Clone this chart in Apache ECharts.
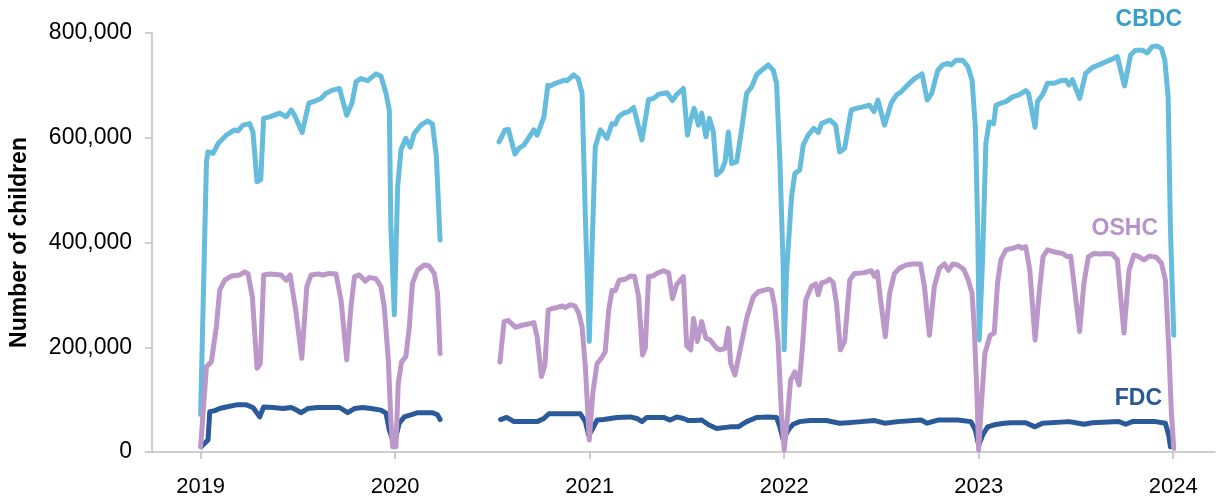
<!DOCTYPE html>
<html>
<head>
<meta charset="utf-8">
<script src="https://cdn.jsdelivr.net/npm/echarts@6/dist/echarts.min.js"></script>
<style>
html,body{margin:0;padding:0;background:#fff;}
#chart{width:1219px;height:499px;}
</style>
</head>
<body>
<div id="chart"></div>
<script>
// ---- Data (x = decimal year, y = number of children) ----
const yearTicks = [2019, 2020, 2021, 2022, 2023, 2024];
const yTicks = [0, 200000, 400000, 600000, 800000];
const seriesNames = ['CBDC', 'OSHC', 'FDC'];

const cbdc = [
[2019.000,72000],[2019.030,555000],[2019.038,573000],[2019.064,570000],[2019.090,589000],[2019.132,605000],[2019.175,615000],[2019.192,613000],[2019.218,624000],[2019.252,627000],[2019.269,611000],[2019.290,516000],[2019.309,520000],[2019.324,637000],[2019.355,640000],[2019.406,647000],[2019.440,640000],[2019.466,653000],[2019.483,643000],[2019.522,610000],[2019.556,666000],[2019.594,671000],[2019.619,675000],[2019.645,685000],[2019.679,691000],[2019.714,694000],[2019.751,643000],[2019.778,666000],[2019.799,707000],[2019.824,713000],[2019.842,711000],[2019.859,709000],[2019.901,722000],[2019.927,718000],[2019.953,685000],[2019.970,653000],[2019.978,430000],[2019.996,262000],[2020.004,265000],[2020.013,506000],[2020.030,577000],[2020.055,599000],[2020.078,582000],[2020.098,608000],[2020.132,624000],[2020.166,632000],[2020.192,626000],[2020.212,564000],[2020.231,405000],
[2020.400,null],
[2020.534,592000],[2020.565,615000],[2020.582,616000],[2020.616,569000],[2020.637,580000],[2020.662,586000],[2020.713,615000],[2020.730,605000],[2020.765,640000],[2020.785,700000],[2020.799,699000],[2020.824,704000],[2020.850,707000],[2020.867,710000],[2020.884,709000],[2020.918,720000],[2020.941,713000],[2020.961,685000],[2020.978,449000],[2020.998,211000],[2021.012,386000],[2021.029,583000],[2021.055,615000],[2021.089,599000],[2021.115,627000],[2021.132,626000],[2021.149,640000],[2021.175,647000],[2021.200,650000],[2021.226,658000],[2021.269,596000],[2021.303,673000],[2021.329,675000],[2021.354,683000],[2021.397,686000],[2021.426,671000],[2021.448,683000],[2021.482,694000],[2021.503,605000],[2021.516,630000],[2021.537,656000],[2021.559,624000],[2021.576,647000],[2021.598,602000],[2021.616,637000],[2021.636,611000],[2021.653,529000],[2021.679,538000],[2021.696,554000],[2021.713,611000],[2021.730,551000],[2021.756,554000],[2021.781,615000],[2021.807,685000],[2021.833,697000],[2021.858,720000],[2021.884,729000],[2021.918,739000],[2021.944,729000],[2021.961,704000],[2021.978,557000],[2021.995,354000],[2022.000,195000],[2022.012,341000],[2022.038,487000],[2022.055,532000],[2022.080,538000],[2022.098,586000],[2022.123,605000],[2022.152,618000],[2022.175,610000],[2022.192,627000],[2022.234,634000],[2022.265,624000],[2022.285,573000],[2022.311,580000],[2022.345,653000],[2022.371,656000],[2022.405,659000],[2022.439,662000],[2022.462,650000],[2022.482,672000],[2022.516,624000],[2022.550,666000],[2022.576,681000],[2022.602,688000],[2022.636,701000],[2022.670,713000],[2022.709,722000],[2022.735,672000],[2022.759,685000],[2022.790,729000],[2022.815,739000],[2022.841,742000],[2022.858,739000],[2022.884,748000],[2022.918,748000],[2022.944,736000],[2022.966,710000],[2022.983,621000],[2022.995,430000],[2023.003,214000],[2023.020,367000],[2023.037,589000],[2023.054,630000],[2023.077,627000],[2023.089,662000],[2023.114,666000],[2023.140,669000],[2023.174,678000],[2023.208,682000],[2023.242,690000],[2023.256,685000],[2023.290,620000],[2023.302,669000],[2023.328,682000],[2023.354,704000],[2023.388,704000],[2023.422,709000],[2023.448,710000],[2023.464,701000],[2023.482,711000],[2023.519,675000],[2023.550,723000],[2023.584,734000],[2023.618,739000],[2023.653,745000],[2023.687,750000],[2023.713,755000],[2023.750,699000],[2023.781,758000],[2023.806,767000],[2023.841,767000],[2023.866,762000],[2023.892,774000],[2023.918,775000],[2023.940,770000],[2023.957,748000],[2023.974,678000],[2023.986,424000],[2024.003,223000]
];

const oshc = [
[2019.000,10000],[2019.030,163000],[2019.055,172000],[2019.081,239000],[2019.098,309000],[2019.124,328000],[2019.158,336000],[2019.201,338000],[2019.227,344000],[2019.244,340000],[2019.266,296000],[2019.290,160000],[2019.307,169000],[2019.324,338000],[2019.355,340000],[2019.414,338000],[2019.440,328000],[2019.460,338000],[2019.491,265000],[2019.520,179000],[2019.546,316000],[2019.568,338000],[2019.602,340000],[2019.628,338000],[2019.662,341000],[2019.696,340000],[2019.722,290000],[2019.751,176000],[2019.773,277000],[2019.791,335000],[2019.816,338000],[2019.847,326000],[2019.867,333000],[2019.901,331000],[2019.927,316000],[2019.944,277000],[2019.965,176000],[2019.978,61000],[2019.987,10000],[2020.004,10000],[2020.016,131000],[2020.033,172000],[2020.055,182000],[2020.073,239000],[2020.089,322000],[2020.115,347000],[2020.149,357000],[2020.175,355000],[2020.201,341000],[2020.218,303000],[2020.231,188000],
[2020.400,null],
[2020.539,172000],[2020.560,249000],[2020.582,251000],[2020.619,238000],[2020.653,242000],[2020.679,244000],[2020.713,247000],[2020.730,220000],[2020.752,144000],[2020.770,166000],[2020.787,271000],[2020.807,274000],[2020.833,276000],[2020.859,279000],[2020.875,276000],[2020.901,281000],[2020.924,279000],[2020.944,265000],[2020.961,239000],[2020.978,163000],[2020.998,23000],[2021.016,112000],[2021.038,169000],[2021.060,179000],[2021.080,191000],[2021.098,271000],[2021.115,309000],[2021.132,308000],[2021.152,328000],[2021.183,330000],[2021.209,336000],[2021.231,335000],[2021.252,296000],[2021.272,185000],[2021.286,198000],[2021.303,335000],[2021.324,336000],[2021.346,341000],[2021.380,346000],[2021.406,342000],[2021.426,293000],[2021.448,320000],[2021.482,335000],[2021.499,203000],[2021.520,195000],[2021.534,255000],[2021.554,211000],[2021.576,249000],[2021.598,217000],[2021.619,214000],[2021.653,198000],[2021.670,195000],[2021.696,198000],[2021.713,236000],[2021.725,169000],[2021.747,147000],[2021.781,208000],[2021.807,255000],[2021.841,296000],[2021.867,306000],[2021.918,311000],[2021.935,309000],[2021.952,277000],[2021.969,208000],[2021.986,74000],[2022.000,4000],[2022.016,61000],[2022.033,137000],[2022.055,153000],[2022.077,128000],[2022.094,201000],[2022.111,290000],[2022.140,316000],[2022.162,321000],[2022.175,300000],[2022.192,323000],[2022.214,325000],[2022.234,330000],[2022.252,323000],[2022.269,284000],[2022.289,195000],[2022.311,211000],[2022.337,328000],[2022.362,341000],[2022.405,342000],[2022.448,346000],[2022.465,335000],[2022.479,344000],[2022.496,290000],[2022.520,220000],[2022.542,303000],[2022.567,341000],[2022.593,351000],[2022.627,357000],[2022.662,359000],[2022.701,359000],[2022.721,316000],[2022.747,223000],[2022.772,316000],[2022.798,351000],[2022.824,359000],[2022.844,347000],[2022.867,359000],[2022.892,357000],[2022.923,349000],[2022.944,331000],[2022.966,303000],[2022.977,239000],[2022.991,112000],[2023.000,4000],[2023.012,80000],[2023.032,188000],[2023.059,223000],[2023.080,227000],[2023.097,322000],[2023.114,367000],[2023.140,386000],[2023.174,389000],[2023.208,393000],[2023.222,389000],[2023.242,392000],[2023.263,347000],[2023.290,214000],[2023.311,303000],[2023.331,373000],[2023.354,386000],[2023.388,382000],[2023.431,379000],[2023.456,373000],[2023.473,374000],[2023.490,322000],[2023.519,230000],[2023.541,322000],[2023.564,373000],[2023.593,379000],[2023.627,378000],[2023.653,379000],[2023.687,378000],[2023.713,367000],[2023.747,227000],[2023.773,347000],[2023.798,376000],[2023.823,373000],[2023.849,367000],[2023.878,374000],[2023.913,372000],[2023.940,360000],[2023.960,328000],[2023.977,201000],[2023.991,74000],[2024.003,7000]
];

const fdc = [
[2019.003,10000],[2019.038,23000],[2019.047,77000],[2019.073,79000],[2019.098,83000],[2019.132,86000],[2019.184,90000],[2019.235,90000],[2019.269,85000],[2019.304,67000],[2019.324,86000],[2019.372,85000],[2019.423,83000],[2019.466,85000],[2019.483,82000],[2019.517,75000],[2019.551,83000],[2019.602,85000],[2019.662,85000],[2019.714,85000],[2019.756,75000],[2019.791,83000],[2019.833,85000],[2019.876,83000],[2019.927,80000],[2019.953,74000],[2019.970,42000],[2019.987,23000],[2020.004,29000],[2020.021,55000],[2020.047,67000],[2020.081,71000],[2020.115,75000],[2020.149,75000],[2020.192,75000],[2020.218,71000],[2020.231,62000],
[2020.400,null],
[2020.542,62000],[2020.573,66000],[2020.611,58000],[2020.653,58000],[2020.730,58000],[2020.765,64000],[2020.790,73000],[2020.901,73000],[2020.952,73000],[2020.978,58000],[2020.995,32000],[2021.012,42000],[2021.038,61000],[2021.072,62000],[2021.106,64000],[2021.140,66000],[2021.209,67000],[2021.243,64000],[2021.269,58000],[2021.294,66000],[2021.380,66000],[2021.414,61000],[2021.448,67000],[2021.482,64000],[2021.508,60000],[2021.542,60000],[2021.576,61000],[2021.611,52000],[2021.653,45000],[2021.721,48000],[2021.764,48000],[2021.807,58000],[2021.858,66000],[2021.918,67000],[2021.961,66000],[2021.978,48000],[2021.995,23000],[2022.021,42000],[2022.046,53000],[2022.080,58000],[2022.132,60000],[2022.217,60000],[2022.285,55000],[2022.328,56000],[2022.397,58000],[2022.465,60000],[2022.516,55000],[2022.585,58000],[2022.704,61000],[2022.735,55000],[2022.790,61000],[2022.892,61000],[2022.960,58000],[2022.983,42000],[2023.000,13000],[2023.020,32000],[2023.046,48000],[2023.080,52000],[2023.131,55000],[2023.166,56000],[2023.242,56000],[2023.290,48000],[2023.328,55000],[2023.464,58000],[2023.499,56000],[2023.541,53000],[2023.584,56000],[2023.721,58000],[2023.756,53000],[2023.790,58000],[2023.909,58000],[2023.960,55000],[2023.977,32000],[2023.986,10000]
];

// ---- Chart ----
const FONT = '"Liberation Sans", Arial, Helvetica, sans-serif';
const chart = echarts.init(document.getElementById('chart'), null, {renderer: 'canvas'});

function fmtThousands(v) {
  return String(v).replace(/\B(?=(\d{3})+(?!\d))/g, ',');
}

const option = {
  animation: false,
  backgroundColor: '#ffffff',
  grid: {left: 149, right: 4, top: 33, bottom: 47, containLabel: false},
  xAxis: {
    type: 'value',
    min: 2018.75,
    max: 2024.215,
    splitLine: {show: false},
    axisLine: {show: true, lineStyle: {color: '#bfbfbf', width: 1.5}},
    axisTick: {show: true, customValues: yearTicks, length: 7, lineStyle: {color: '#bfbfbf', width: 1.5}},
    axisLabel: {
      customValues: yearTicks,
      formatter: v => String(Math.round(v)),
      color: '#000', fontSize: 22, fontFamily: FONT, margin: 24
    }
  },
  yAxis: {
    type: 'value',
    min: 0, max: 800000, interval: 200000,
    name: 'Number of children',
    nameLocation: 'middle',
    nameGap: 121,
    nameTextStyle: {color: '#000', fontSize: 23, fontWeight: 'bold', fontFamily: FONT},
    splitLine: {show: false},
    axisLine: {show: true, lineStyle: {color: '#bfbfbf', width: 1.5}},
    axisTick: {show: true, length: 7, lineStyle: {color: '#bfbfbf', width: 1.5}},
    axisLabel: {
      formatter: v => fmtThousands(v),
      color: '#000', fontSize: 23, fontFamily: FONT, margin: 20,
      padding: [4, 0, 0, 0]
    }
  },
  series: [
    {name: seriesNames[0], type: 'line', data: cbdc, showSymbol: false, connectNulls: false,
     lineStyle: {color: '#65bcdc', width: 5, join: 'round', cap: 'round'}, z: 2},
    {name: seriesNames[2], type: 'line', data: fdc, showSymbol: false, connectNulls: false,
     lineStyle: {color: '#2b5a9b', width: 5, join: 'round', cap: 'round'}, z: 3},
    {name: seriesNames[1], type: 'line', data: oshc, showSymbol: false, connectNulls: false,
     lineStyle: {color: '#bb98c9', width: 5, join: 'round', cap: 'round'}, z: 4}
  ],
  graphic: [
    {type: 'text', right: 1219 - 1182, top: 8,
     style: {text: seriesNames[0], fill: '#3a9fc8', font: 'bold 23px ' + FONT}},
    {type: 'text', right: 1219 - 1158, top: 217,
     style: {text: seriesNames[1], fill: '#b793c9', font: 'bold 23px ' + FONT}},
    {type: 'text', right: 1219 - 1162, top: 387,
     style: {text: seriesNames[2], fill: '#2a5796', font: 'bold 23px ' + FONT}}
  ]
};
chart.setOption(option);
</script>
</body>
</html>
